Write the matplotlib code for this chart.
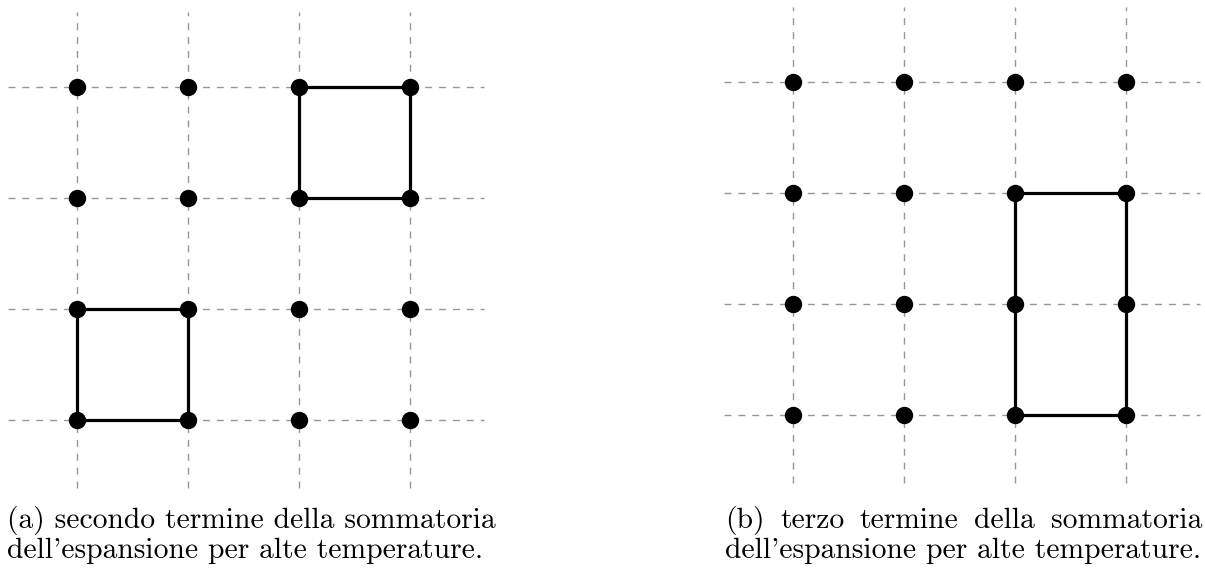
import matplotlib
matplotlib.use("Agg")
from matplotlib import pyplot as plt

# 4x4 lattice of sites, unit spacing
sites_x = [0, 1, 2, 3]
sites_y = [0, 1, 2, 3]

# closed loops drawn on the lattice (x list, y list)
loops_a = [
    ([0, 1, 1, 0, 0], [0, 0, 1, 1, 0]),
    ([2, 3, 3, 2, 2], [2, 2, 3, 3, 2]),
]
loops_b = [
    ([2, 3, 3, 2, 2], [0, 0, 2, 2, 0]),
]

caption_a = ["(a) secondo termine della sommatoria",
             "dell'espansione per alte temperature."]
caption_b = ["(b) terzo termine della sommatoria",
             "dell'espansione per alte temperature."]

W, H = 1205, 572
DPI = 100
UNIT = 111.0  # pixels per lattice step

fig = plt.figure(figsize=(W / DPI, H / DPI), dpi=DPI)
fig.patch.set_facecolor("white")

XLIM = (-0.68, 3.70)
YLIM = (-0.68, 3.72)


def make_axes(x0_px, y3_px):
    # x0_px: pixel column of x=0 ; y3_px: pixel row (from top) of y=3
    left = x0_px + XLIM[0] * UNIT
    width = (XLIM[1] - XLIM[0]) * UNIT
    top = y3_px - (YLIM[1] - 3) * UNIT
    height = (YLIM[1] - YLIM[0]) * UNIT
    ax = fig.add_axes([left / W, 1 - (top + height) / H, width / W, height / H])
    ax.set_xlim(*XLIM)
    ax.set_ylim(*YLIM)
    ax.axis("off")
    return ax


def draw_panel(ax, loops):
    for y in sites_y:
        ax.plot([-0.62, 3.67], [y, y], color="#969696", lw=1.0,
                dashes=(5, 5), zorder=1)
    for x in sites_x:
        ax.plot([x, x], [-0.61, 3.68], color="#969696", lw=1.0,
                dashes=(5, 5), zorder=1)
    for lx, ly in loops:
        ax.plot(lx, ly, color="black", lw=2.3, solid_capstyle="round",
                solid_joinstyle="round", zorder=2)
    xs = [x for y in sites_y for x in sites_x]
    ys = [y for y in sites_y for x in sites_x]
    ax.plot(xs, ys, "o", color="black", ms=11.5, zorder=3)


ax_a = make_axes(76.5, 87)
draw_panel(ax_a, loops_a)
ax_b = make_axes(793.0, 82)
draw_panel(ax_b, loops_b)

FONT = dict(family="cmr10", size=21.3, color="black")
renderer = fig.canvas.get_renderer()


def text_width(s):
    t = fig.text(0, 0, s, **FONT)
    w = t.get_window_extent(renderer).width
    t.remove()
    return w


def draw_caption(lines, x0, x1, base1, base2):
    # first line stretched out to x1 when it is short, second line flush left
    words = lines[0].split(" ")
    extra = ((x1 - x0) - text_width(lines[0])) / (len(words) - 1)
    if extra <= 1:
        fig.text(x0 / W, 1 - base1 / H, lines[0], va="baseline", ha="left", **FONT)
    else:
        for k, w in enumerate(words):
            x = x0 + text_width(" ".join(words[:k + 1])) - text_width(w) + k * extra
            fig.text(x / W, 1 - base1 / H, w, va="baseline", ha="left", **FONT)
    fig.text(x0 / W, 1 - base2 / H, lines[1], va="baseline", ha="left", **FONT)


draw_caption(caption_a, 7, 481, 528, 557.5)
draw_caption(caption_b, 725, 1202, 528, 557.5)

fig.savefig("out.png", dpi=DPI, facecolor="white")
